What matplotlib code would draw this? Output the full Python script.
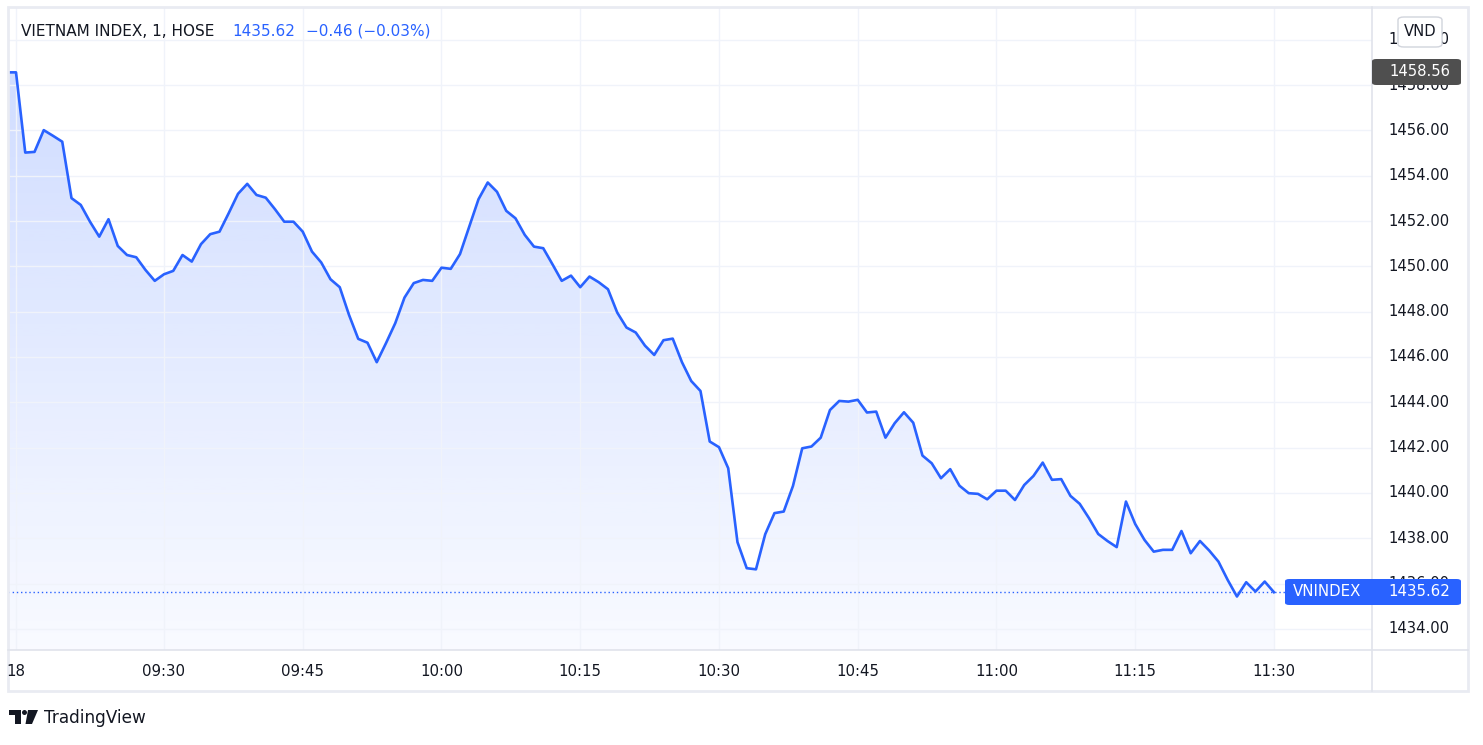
import matplotlib
matplotlib.use("Agg")
import matplotlib.pyplot as plt
import matplotlib.transforms as mtransforms
from matplotlib.patches import Rectangle, FancyBboxPatch, Polygon, Ellipse
from matplotlib.lines import Line2D
import numpy as np
import pandas as pd

# one-minute closes, 09:13 -> 11:30
start_time = "09:13"
values = [
    1458.56, 1458.56, 1455.02, 1455.05, 1456.01, 1455.76, 1455.50, 1453.01, 1452.71, 1451.97,
    1451.31, 1452.08, 1450.90, 1450.50, 1450.40, 1449.84, 1449.36, 1449.65, 1449.80, 1450.50,
    1450.21, 1450.98, 1451.42, 1451.53, 1452.35, 1453.20, 1453.64, 1453.15, 1453.03, 1452.52,
    1451.97, 1451.97, 1451.53, 1450.65, 1450.17, 1449.43, 1449.08, 1447.86, 1446.80, 1446.63,
    1445.77, 1446.61, 1447.49, 1448.62, 1449.26, 1449.40, 1449.36, 1449.94, 1449.89, 1450.54,
    1451.75, 1452.96, 1453.70, 1453.29, 1452.45, 1452.12, 1451.39, 1450.87, 1450.80, 1450.09,
    1449.36, 1449.59, 1449.08, 1449.55, 1449.30, 1448.99, 1447.96, 1447.30, 1447.08, 1446.50,
    1446.09, 1446.74, 1446.81, 1445.77, 1444.94, 1444.50, 1442.27, 1442.02, 1441.09, 1437.83,
    1436.68, 1436.63, 1438.18, 1439.11, 1439.18, 1440.31, 1441.97, 1442.05, 1442.44, 1443.66,
    1444.06, 1444.03, 1444.11, 1443.55, 1443.59, 1442.44, 1443.08, 1443.56, 1443.10, 1441.65,
    1441.31, 1440.65, 1441.05, 1440.32, 1439.99, 1439.96, 1439.72, 1440.10, 1440.10, 1439.69,
    1440.35, 1440.75, 1441.34, 1440.58, 1440.61, 1439.87, 1439.52, 1438.89, 1438.19, 1437.88,
    1437.61, 1439.62, 1438.63, 1437.93, 1437.41, 1437.49, 1437.49, 1438.32, 1437.34, 1437.88,
    1437.46, 1436.97, 1436.16, 1435.43, 1436.06, 1435.65, 1436.09, 1435.62,
]
tick_times = ["09:14", "09:30", "09:45", "10:00", "10:15", "10:30", "10:45", "11:00", "11:15", "11:30"]
tick_labels = ["18", "09:30", "09:45", "10:00", "10:15", "10:30", "10:45", "11:00", "11:15", "11:30"]
price_ticks = list(range(1434, 1461, 2))
last_price = 1435.62
marked_price = 1458.56
title = "VIETNAM INDEX, 1, HOSE"
title_price = "1435.62"
title_change = "\u22120.46 (\u22120.03%)"

W, H = 1483, 745
BLUE = "#2962FF"
TEXT = "#131722"
GRID = "#f0f3fa"
BORDER = "#e0e3eb"


def fx(x):
    return x / W


def fy(y):
    return 1 - y / H


times = pd.date_range("2024-01-18 " + start_time, periods=len(values), freq="1min").strftime("%H:%M").tolist()
xs = np.arange(len(values)) - 1  # index 0 = 09:14
tick_pos = [xs[times.index(t)] for t in tick_times]

fig = plt.figure(figsize=(W / 100, H / 100), dpi=100)
ax = fig.add_axes([fx(8), fy(650), fx(1372 - 8), (650 - 8) / H])

xmin, xmax = -0.865, 146.6
ymin, ymax = 1433.07, 1461.4

# gradient area under the line
verts = [(xs[0], ymin)] + list(zip(xs, values)) + [(xs[-1], ymin)]
clip = Polygon(verts, closed=True, facecolor="none", edgecolor="none")
ax.add_patch(clip)
alpha = np.linspace(0.22, 0.03, 256)
rgba = np.zeros((256, 1, 4))
rgba[..., 0] = 41 / 255
rgba[..., 1] = 98 / 255
rgba[..., 2] = 1.0
rgba[:, 0, 3] = alpha
im = ax.imshow(rgba, extent=[xmin, xmax, ymin, max(values)], origin="upper",
               aspect="auto", zorder=1, interpolation="bilinear")
im.set_clip_path(clip)

ax.plot(xs, values, color=BLUE, lw=1.9, zorder=3)
ax.axhline(last_price, color=BLUE, lw=1, ls=(0, (1, 2)), zorder=2)

ax.set_xlim(xmin, xmax)
ax.set_ylim(ymin, ymax)
ax.set_xticks(tick_pos)
ax.set_yticks(price_ticks)
ax.grid(True, color=GRID, lw=1, zorder=0)
ax.tick_params(length=0, labelbottom=False, labelleft=False)
for s in ax.spines.values():
    s.set_visible(False)

# axis labels
ty = mtransforms.blended_transform_factory(fig.transFigure, ax.transData)
for p in price_ticks:
    fig.text(fx(1419), p, f"{p:.2f}", transform=ty, ha="center", va="center",
             fontsize=10.6, color=TEXT, zorder=2)
tx = mtransforms.blended_transform_factory(ax.transData, fig.transFigure)
for p, lab in zip(tick_pos, tick_labels):
    fig.text(p, fy(671), lab, transform=tx, ha="center", va="center",
             fontsize=10.8, color=TEXT)

# frame
fig.add_artist(Rectangle((fx(8), fy(691)), fx(1468 - 8), (691 - 7) / H,
                         transform=fig.transFigure, fill=False, ec="#e9ebf2", lw=2))
fig.add_artist(Line2D([fx(1372), fx(1372)], [fy(7), fy(691)], color=BORDER, lw=1.2))
fig.add_artist(Line2D([fx(8), fx(1468)], [fy(650), fy(650)], color=BORDER, lw=1.2))

# title
fig.text(fx(21), fy(31), title, fontsize=11, color=TEXT, va="center")
fig.text(fx(232), fy(31), title_price, fontsize=11, color=BLUE, va="center")
fig.text(fx(306), fy(31), title_change, fontsize=11, color=BLUE, va="center")

# price markers
fig.add_artist(FancyBboxPatch((fx(1372), fy(85)), fx(1461 - 1372), 26 / H,
                              boxstyle="round,pad=0,rounding_size=0.003",
                              transform=fig.transFigure, fc="#4f4f4f", ec="none", zorder=5))
fig.text(fx(1450), fy(72), f"{marked_price:.2f}", ha="right", va="center",
         fontsize=10.6, color="white", zorder=6)

fig.add_artist(FancyBboxPatch((fx(1285), fy(605)), fx(1461 - 1285), 26 / H,
                              boxstyle="round,pad=0,rounding_size=0.003",
                              transform=fig.transFigure, fc=BLUE, ec="none", zorder=5))
fig.text(fx(1293), fy(592), "VNINDEX", ha="left", va="center",
         fontsize=10.8, color="white", zorder=6)
fig.text(fx(1450), fy(592), f"{last_price:.2f}", ha="right", va="center",
         fontsize=10.8, color="white", zorder=6)

fig.add_artist(FancyBboxPatch((fx(1398), fy(47)), fx(1442 - 1398), 30 / H,
                              boxstyle="round,pad=0,rounding_size=0.004",
                              transform=fig.transFigure, fc="white", ec="#d1d4dc",
                              lw=1, zorder=5))
fig.text(fx(1420), fy(31), "VND", ha="center", va="center", fontsize=10.6,
         color=TEXT, zorder=6)

# TradingView logo
logo = [
    [(9, 710), (20.5, 710), (20.5, 724), (15, 724), (15, 715), (9, 715)],
    [(28, 710), (38, 710), (32, 724), (25.5, 724)],
]
for pts in logo:
    fig.add_artist(Polygon([(fx(a), fy(b)) for a, b in pts], closed=True,
                           transform=fig.transFigure, fc=TEXT, ec="none"))
fig.add_artist(Ellipse((fx(24.5), fy(712.5)), 5 / W, 5 / H,
                       transform=fig.transFigure, fc=TEXT, ec="none"))
fig.text(fx(44), fy(718), "TradingView", fontsize=12.2, color=TEXT, va="center")

fig.savefig("out.png", dpi=100, facecolor="white")
